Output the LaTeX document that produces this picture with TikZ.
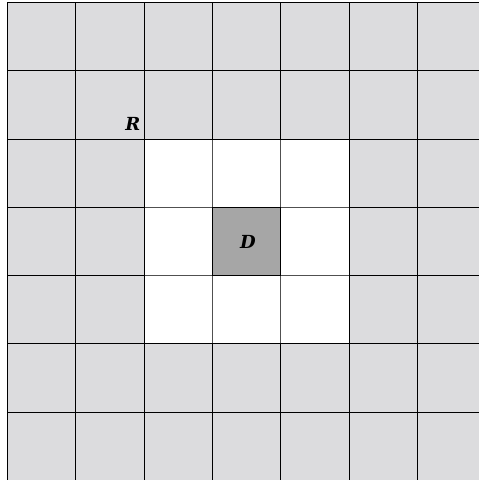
\documentclass[tikz,border=0pt]{standalone}
\usepackage{fontspec}
\newfontfamily\lblfont{DejaVu Serif}
\definecolor{cellgray}{HTML}{DCDCDE}
\definecolor{dgray}{HTML}{A6A6A6}
\definecolor{innerline}{HTML}{505050}
\begin{document}
\begin{tikzpicture}[x=1pt,y=1pt,
  cell/.style={draw=black, line width=1pt, minimum size=68.3pt, inner sep=0pt, outer sep=0pt, anchor=north west},
  graycell/.style={cell, fill=cellgray},
  whitecell/.style={cell, fill=white, draw=innerline},
  dcell/.style={cell, fill=dgray, draw=black},
  lbl/.style={font=\fontsize{18}{21}\selectfont\lblfont\bfseries\itshape, inner sep=0pt}]
\useasboundingbox (0,0) rectangle (479,480);
\clip (0,0) rectangle (479,480);
\foreach \i in {0,...,6}{
  \foreach \j in {0,...,6}{
    \node[graycell] (c\i\j) at ({7.5+\i*68.3},{477.5-\j*68.3}) {};
  }
}
\foreach \i in {2,3,4}{
  \foreach \j in {2,3,4}{
    \node[whitecell] (w\i\j) at ({7.5+\i*68.3},{477.5-\j*68.3}) {};
  }
}
\draw[black, line width=1pt] (w22.north west) rectangle (w44.south east);
\node[dcell] (d) at ({7.5+3*68.3},{477.5-3*68.3}) {};
\node[lbl, anchor=base east] (r) at ([xshift=-3.5pt,yshift=8.5pt]c11.south east) {R};
\node[lbl, anchor=base] (dl) at ([xshift=1.5pt,yshift=-7pt]d.center) {D};
\end{tikzpicture}
\end{document}
